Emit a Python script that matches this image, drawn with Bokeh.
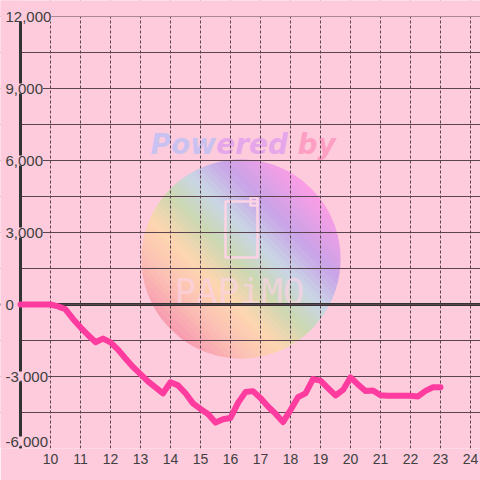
import numpy as np
from bokeh.plotting import figure
from bokeh.models import Range1d, FixedTicker, ColumnDataSource, LabelSet, BoxAnnotation
from bokeh.embed import file_html
from bokeh.resources import INLINE
from bokeh.core.properties import value

# ---------------- data ----------------
hours = [9.0, 9.25, 9.5, 9.75, 10.0, 10.25, 10.5, 10.75, 11.0, 11.25, 11.5, 11.75,
         12.0, 12.25, 12.5, 12.75, 13.0, 13.25, 13.5, 13.75, 14.0, 14.25, 14.5, 14.75,
         15.0, 15.25, 15.5, 15.75, 16.0, 16.25, 16.5, 16.75, 17.0, 17.25, 17.5, 17.75,
         18.0, 18.25, 18.5, 18.75, 19.0, 19.25, 19.5, 19.75, 20.0, 20.25, 20.5, 20.75,
         21.0, 21.25, 21.5, 21.75, 22.0, 22.25, 22.5, 22.75, 23.0]
balance = [0, 0, 0, 0, 0, -80, -200, -600, -950, -1270, -1570, -1420,
           -1580, -1880, -2250, -2600, -2900, -3200, -3450, -3700, -3240, -3370, -3700, -4120,
           -4350, -4560, -4920, -4780, -4730, -4100, -3650, -3610, -3900, -4250, -4550, -4900,
           -4400, -3860, -3700, -3110, -3170, -3480, -3790, -3560, -3040, -3330, -3600, -3580,
           -3780, -3800, -3800, -3800, -3800, -3830, -3600, -3450, -3450]
x_ticks = list(range(10, 25))
y_grid_ticks = list(range(-6000, 12001, 1500))
y_label_ticks = [-6000, -3000, 0, 3000, 6000, 9000, 12000]
y_label_text = [f"{v:,}" for v in y_label_ticks]

# ---------------- styles ----------------
BG = "#fdcbdc"
GRID = "#5b4350"
TXT = "#404040"
LINE = "#fe3b9e"
W, H = 480, 480
PX_X = 30.0                     # pixels per hour
X_AXIS_HOUR = 9                 # where the vertical axis stands
AXIS_PX = 20
Y_MIN, Y_MAX = min(y_grid_ticks), max(y_grid_ticks)
TOP_PX, BOTTOM_PX = 16, 448
PX_Y = (BOTTOM_PX - TOP_PX) / (Y_MAX - Y_MIN)
y_top = Y_MAX + TOP_PX / PX_Y
x_start = X_AXIS_HOUR - AXIS_PX / PX_X
x_end = x_start + W / PX_X

p = figure(width=W, height=H, output_backend="svg", toolbar_location=None,
           x_range=Range1d(x_start, x_end), y_range=Range1d(Y_MIN, y_top),
           y_axis_location=None,
           min_border_left=0, min_border_right=0,
           min_border_top=0, min_border_bottom=H - BOTTOM_PX,
           background_fill_color=BG, border_fill_color=BG)
p.outline_line_color = None

def dx(px):
    return x_start + px / PX_X
def dy(py):
    return y_top - py / PX_Y

# ---------------- watermark ----------------
cx, cy, R = 240.5, 258.5, 99.5
stops = [(0.00, "#f79bb0"), (0.18, "#fcc3b4"), (0.32, "#fdd6b0"), (0.48, "#cbd8b2"),
         (0.62, "#c9d5e6"), (0.78, "#c9a3e7"), (1.00, "#fd9de5")]
def hex2rgb(h):
    return np.array([int(h[i:i + 2], 16) for i in (1, 3, 5)], dtype=float)
def col_at(t):
    for (t0, c0), (t1, c1) in zip(stops[:-1], stops[1:]):
        if t <= t1:
            f = (t - t0) / (t1 - t0)
            c = hex2rgb(c0) * (1 - f) + hex2rgb(c1) * f
            return "#%02x%02x%02x" % tuple(int(round(v)) for v in c)
    return stops[-1][1]
N = 40
edges = np.linspace(-R, R, N + 1)
d = np.array([1, -1]) / np.sqrt(2)
e = np.array([1, 1]) / np.sqrt(2)
xs, ys, cols = [], [], []
for i in range(N):
    a, b = edges[i], min(edges[i + 1] + 0.6, R)
    us = np.linspace(a, b, 8)
    vs = np.sqrt(np.maximum(R * R - us * us, 0))
    pts = [(u, v) for u, v in zip(us, vs)] + [(u, -v) for u, v in zip(us[::-1], vs[::-1])]
    xs.append([dx(cx + u * d[0] + v * e[0]) for u, v in pts])
    ys.append([dy(cy + u * d[1] + v * e[1]) for u, v in pts])
    cols.append(col_at((edges[i] + edges[i + 1]) / 2 / (2 * R) + 0.5))
p.patches(xs, ys, fill_color=cols, line_color=None, level="image")

p.quad(left=[dx(225)], right=[dx(257)], top=[dy(201)], bottom=[dy(257)],
       fill_color=None, line_color="#fcd3e4", line_width=2.5, level="image")
p.quad(left=[dx(250)], right=[dx(257)], top=[dy(197)], bottom=[dy(205)],
       fill_color=None, line_color="#fcd3e4", line_width=2.5, level="image")
p.text(x=[dx(239)], y=[dy(291)], text=["PAPiMO"], text_font=value("DejaVu Sans Mono"),
       text_font_size="36px", text_align="center", text_baseline="middle",
       text_color="#fcd3e4", text_alpha=0.7, level="image")
for word, xp, c in [("Pow", 150, "#c9c2f0"), ("ered", 215.7, "#e6a6ea"), ("by", 297, "#fd9ec2")]:
    p.text(x=[dx(xp)], y=[dy(144)], text=[word], text_font=value("DejaVu Sans"),
           text_font_style="bold italic", text_font_size="28px", text_align="left",
           text_baseline="alphabetic", text_color=c, level="image")

# ---------------- grids ----------------
p.xgrid.ticker = FixedTicker(ticks=x_ticks)
p.xgrid.grid_line_color = GRID
p.xgrid.grid_line_dash = "3 2"
p.xgrid.grid_line_width = 1
p.ygrid.ticker = FixedTicker(ticks=y_grid_ticks)
p.ygrid.grid_line_color = GRID
p.ygrid.grid_line_width = 1.2

# zero line (under the mask so it starts at the axis)
p.hspan(y=[0], line_color="#333333", line_width=3, level="underlay")
# masks: nothing left of the axis or above the top grid line
p.add_layout(BoxAnnotation(right=X_AXIS_HOUR, fill_color=BG, fill_alpha=1,
                           line_color=None, level="underlay"))
p.add_layout(BoxAnnotation(bottom=Y_MAX, fill_color=BG, fill_alpha=1,
                           line_color=None, level="underlay"))

# y axis line
p.segment(x0=[X_AXIS_HOUR], y0=[Y_MAX], x1=[X_AXIS_HOUR], y1=[Y_MIN],
          line_color="#333333", line_width=3)

# data line
p.line(hours, balance, line_color=LINE, line_width=6, line_join="round", line_cap="round")

# ---------------- axes ----------------
xa = p.xaxis[0]
xa.ticker = FixedTicker(ticks=x_ticks)
xa.axis_line_color = None
xa.major_tick_line_color = None
xa.minor_tick_line_color = None
xa.major_tick_out = 0
xa.major_tick_in = 0
xa.major_label_standoff = 5
xa.major_label_text_font = "Liberation Sans"
xa.major_label_text_font_size = "14px"
xa.major_label_text_color = TXT

offs = [7 if v == Y_MIN else 0 for v in y_label_ticks]
src = ColumnDataSource(dict(y=y_label_ticks, t=y_label_text,
                            x=[dx(5)] * len(y_label_ticks), off=offs))
p.add_layout(LabelSet(x="x", y="y", text="t", source=src, y_offset="off",
                      text_align="left", text_baseline="middle",
                      text_font=value("Liberation Sans"),
                      text_font_size="15px", text_color=TXT,
                      background_fill_color=BG))

open("out.html", "w").write(file_html(p, INLINE))
